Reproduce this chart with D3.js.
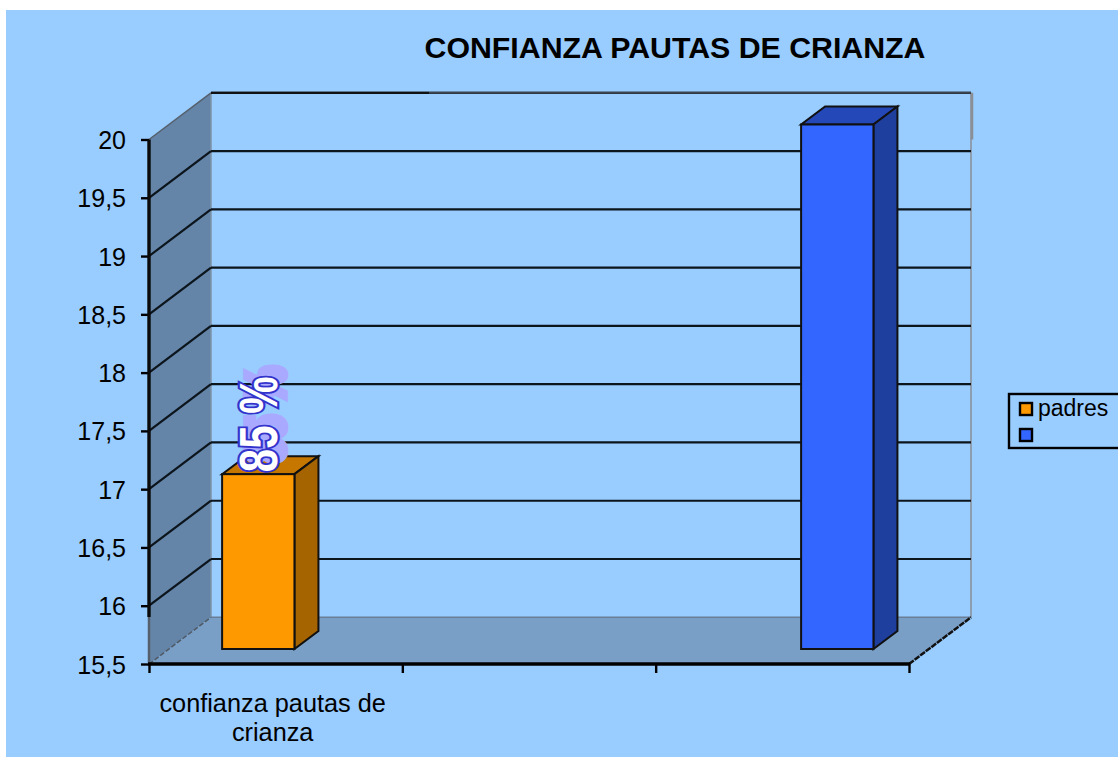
<!DOCTYPE html>
<html>
<head>
<meta charset="utf-8">
<script src="https://cdn.jsdelivr.net/npm/d3@7/dist/d3.min.js"></script>
<style>
html,body{margin:0;padding:0;background:#fff}
svg{display:block}
text{font-family:"Liberation Sans",Arial,sans-serif;fill:#000}
</style>
</head>
<body>
<svg id="c" width="1118" height="757"></svg>
<script>
const title = "CONFIANZA PAUTAS DE CRIANZA";
const categories = ["confianza pautas de crianza", "cat2", "cat3"];
const categoryLines = ["confianza pautas de", "crianza"];
const seriesNames = ["padres", ""];
const padresValues = [17, null, null];
const blankValues = [null, null, 20];
const yTicks = [15.5, 16, 16.5, 17, 17.5, 18, 18.5, 19, 19.5, 20];
const dataLabel = "85 %";

const colors = {
  bg: "#99ccff", wall: "#6485a8", floor: "#7a9fc6",
  orange: ["#ff9900", "#c67700", "#a56400"],
  blue: ["#3366ff", "#2548b8", "#1f3f9e"]
};
const plot = {l:149, r:909, t:139.5, b:664};
const depth = {dx:62, dy:-46.7};
const barShift = {dx:19, dy:-15};
const barDepth = {dx:24, dy:-18};

const svg = d3.select("#c");
svg.append("rect").attr("x",6).attr("y",10).attr("width",1112).attr("height",747).attr("fill",colors.bg);

const y = d3.scaleLinear().domain([15.5,20]).range([plot.b,plot.t]);
const x = d3.scaleBand().domain(categories).range([plot.l,plot.r]);
const xEdge = d3.scaleLinear().domain([0,3]).range([plot.l,plot.r]);
const xSeries = d3.scaleBand().domain(d3.range(seriesNames.length)).range([x.bandwidth()*0.2136, x.bandwidth()*0.7846]);
const pts = a => a.map(p=>p.join(",")).join(" ");

// back wall, left wall, floor
const yTop = y(20), yBot = y(15.5);
svg.append("polygon").attr("points",pts([[plot.l,yTop],[plot.l+depth.dx,yTop+depth.dy],[plot.l+depth.dx,yBot+depth.dy],[plot.l,yBot]])).attr("fill",colors.wall);
svg.append("polygon").attr("points",pts([[plot.l,yBot],[plot.l+depth.dx,yBot+depth.dy],[plot.r+depth.dx,yBot+depth.dy],[plot.r,yBot]])).attr("fill",colors.floor);

// grey wall edges
const grey = "#8a8f96";
const edge = (x1,y1,x2,y2,c,w,dash) => svg.append("line").attr("x1",x1).attr("y1",y1).attr("x2",x2).attr("y2",y2).attr("stroke",c).attr("stroke-width",w).attr("stroke-dasharray",dash||null);
edge(plot.l+depth.dx,yTop+depth.dy,plot.l+depth.dx,yBot+depth.dy,"#7f93a8",1.5);
edge(plot.l,yTop,plot.l+depth.dx,yTop+depth.dy,"#55606c",1.5);
edge(plot.l,yBot,plot.l+depth.dx,yBot+depth.dy,"#4f5a66",1.5,"5,2");
edge(plot.r+depth.dx,yTop+depth.dy,plot.r+depth.dx,yBot+depth.dy,grey,1.5);
edge(plot.r+depth.dx+1,yTop+depth.dy,plot.r+depth.dx+1,yTop,grey,2.5);
edge(plot.l+depth.dx,yBot+depth.dy,plot.r+depth.dx,yBot+depth.dy,"#6a7f96",1.5);
edge(plot.r,yBot,plot.r+depth.dx,yBot+depth.dy,"#111",2.5,"6,1");

// gridlines
yTicks.slice(1).forEach(v=>{
  const yy=y(v);
  edge(plot.l+depth.dx,yy+depth.dy,plot.r+depth.dx,yy+depth.dy,"#0c141c",2.2);
  if(v<20) edge(plot.l,yy,plot.l+depth.dx,yy+depth.dy,"#0c141c",2.2);
});
edge(plot.l+depth.dx,yTop+depth.dy,plot.l+280,yTop+depth.dy,"#111",2);
edge(plot.l+280,yTop+depth.dy,plot.r+depth.dx,yTop+depth.dy,"#3c4650",2);

// bars
function bar(values,sIdx,cols){
  const g=svg.append("g");
  values.forEach((v,i)=>{
    if(v===null) return;
    const xl=x(categories[i])+xSeries(sIdx)+barShift.dx;
    const xr=xl+xSeries.bandwidth();
    const yt=y(v)+barShift.dy, yb=y(15.5)+barShift.dy;
    const d=barDepth;
    g.append("polygon").attr("points",pts([[xl,yt],[xr,yt],[xr+d.dx,yt+d.dy],[xl+d.dx,yt+d.dy]])).attr("fill",cols[1]).attr("stroke","#111").attr("stroke-width",2);
    g.append("polygon").attr("points",pts([[xr,yt],[xr+d.dx,yt+d.dy],[xr+d.dx,yb+d.dy],[xr,yb]])).attr("fill",cols[2]).attr("stroke","#111").attr("stroke-width",2);
    g.append("rect").attr("x",xl).attr("y",yt).attr("width",xr-xl).attr("height",yb-yt).attr("fill",cols[0]).attr("stroke","#111").attr("stroke-width",2);
  });
}
bar(padresValues,0,colors.orange);
bar(blankValues,1,colors.blue);

// axes
const yAxis = d3.axisLeft(y).tickValues(yTicks).tickSize(8).tickPadding(15)
  .tickFormat(d=>String(d).replace(".",","));
const gy = svg.append("g").attr("transform",`translate(${plot.l},0)`).call(yAxis);
gy.select(".domain").remove();
gy.selectAll("line").attr("stroke","#000").attr("stroke-width",2.4);
gy.selectAll("text").attr("font-size",25).attr("fill","#000").attr("dy","0.36em");
edge(plot.l,yTop,plot.l,yBot-47,"#0a0a0a",3.4);
edge(plot.l,yBot-47,plot.l,yBot,"#55606c",2.5);

const xAxis = d3.axisBottom(xEdge).tickValues([0,1,2,3]).tickSize(9).tickFormat("");
const gx = svg.append("g").attr("transform",`translate(0,${plot.b})`).call(xAxis);
gx.select(".domain").remove();
gx.selectAll("line").attr("stroke","#000").attr("stroke-width",2.4);
edge(plot.l-1,plot.b,plot.r+1,plot.b,"#000",3.4);

// category label
const cx = x(categories[0])+x.bandwidth()/2-3;
categoryLines.forEach((t,i)=>{
  svg.append("text").attr("x",cx).attr("y",712+i*29).attr("text-anchor","middle").attr("font-size",25.3).text(t);
});

// title
svg.append("text").attr("x",675).attr("y",58).attr("text-anchor","middle").attr("font-size",30.3).attr("font-weight",700).text(title);

// data label
const lx = x(categories[0])+xSeries(0)+barShift.dx+xSeries.bandwidth()/2;
const ly = y(padresValues[0])+barShift.dy-2;
function rotated(dx,dy){
  return svg.append("text")
    .attr("transform",`translate(${lx+dx+19},${ly+dy}) rotate(-90) scale(1,1.26)`)
    .attr("font-size",42).attr("font-weight",700).text(dataLabel);
}
rotated(7,-10).style("fill","#a9a9ff").attr("stroke","#a9a9ff").attr("stroke-width",6);
rotated(0,0).style("fill","#ffffff").attr("stroke","#3333cc").attr("stroke-width",3.6).attr("paint-order","stroke");

// legend
const lg = svg.append("g");
lg.append("rect").attr("x",1009).attr("y",394).attr("width",120).attr("height",54).attr("fill",colors.bg).attr("stroke","#000").attr("stroke-width",2.4);
[colors.orange[0],colors.blue[0]].forEach((c,i)=>{
  lg.append("rect").attr("x",1020).attr("y",403+i*26).attr("width",12).attr("height",12).attr("fill",c).attr("stroke","#000").attr("stroke-width",2.4);
  lg.append("text").attr("x",1038).attr("y",416+i*26).attr("font-size",23).text(seriesNames[i]);
});
</script>
</body>
</html>
